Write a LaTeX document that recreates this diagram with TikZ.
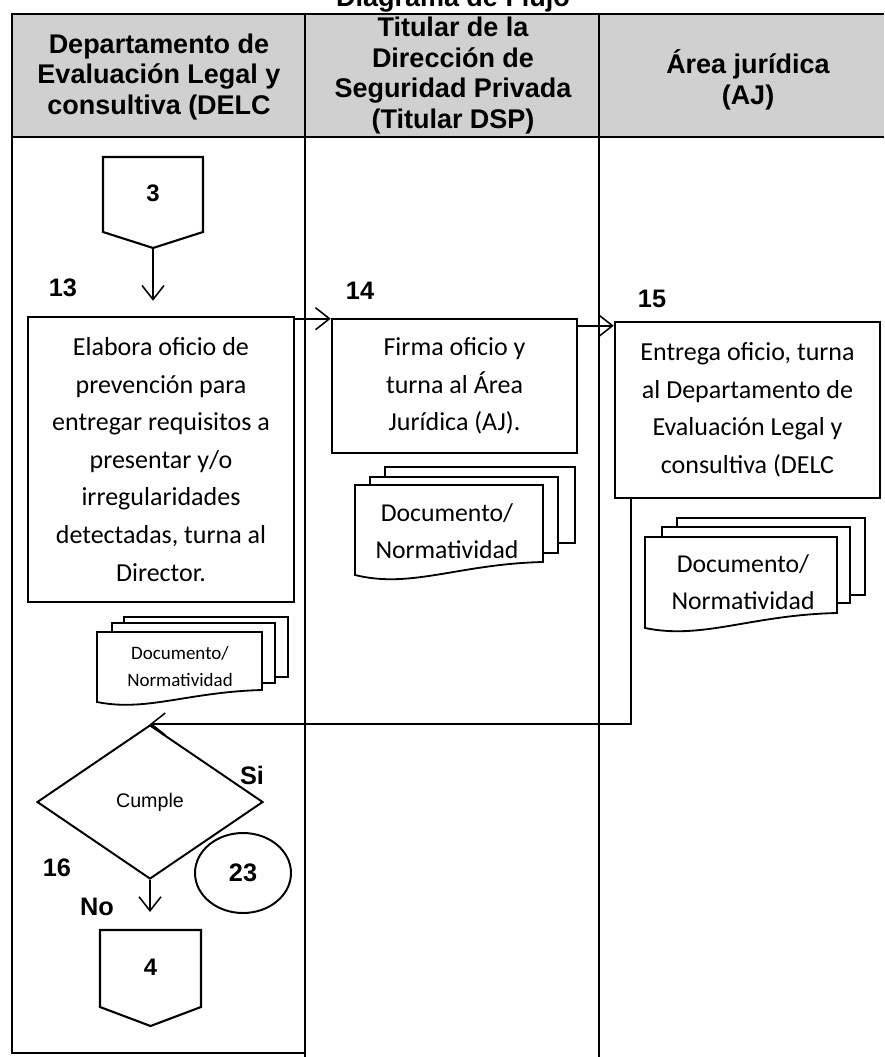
\documentclass[tikz,border=0pt]{standalone}
\usepackage{fontspec}
\setmainfont{Carlito}
\newfontfamily\arialfont{Liberation Sans}
\usepackage{tikz}
\usetikzlibrary{arrows.meta,shapes.geometric}

\definecolor{headgray}{RGB}{208,208,208}

\tikzset{
	flow/.style={line width=1.1pt,-{Straight Barb[length=0.35cm,width=0.55cm]}},
	procbox/.style={draw,line width=1.8pt,align=center,inner sep=0pt,font=\fontsize{18.5}{26.7}\selectfont},
	headtext/.style={align=center,font=\arialfont\bfseries\fontsize{19.2}{21.8}\selectfont},
	steplabel/.style={font=\arialfont\bfseries\fontsize{18}{20}\selectfont},
	conntext/.style={font=\arialfont\bfseries\fontsize{17}{19}\selectfont},
	page/.style={draw,fill=white,line width=1.3pt},
	doctext/.style={align=center,font=\fontsize{18.3}{26.3}\selectfont},
}

\begin{document}
\begin{tikzpicture}
	\useasboundingbox (0,0) rectangle (22.1,-26.425);
	% tabla
	\fill[headgray] (0.3,-0.35) rectangle (22.1,-3.425);
	\draw[line width=1.3pt] (22.1,-0.35) -- (0.3,-0.35) -- (0.3,-26.325) -- (7.625,-26.325);
	\draw[line width=1.3pt] (0.3,-3.425) -- (22.1,-3.425);
	\draw[line width=1.1pt] (7.625,-0.35) -- (7.625,-26.425);
	\draw[line width=1.1pt] (14.97,-0.35) -- (14.97,-26.425);
	\draw (11.325,-0.175) node[headtext,anchor=base] (title) {Diagrama de Flujo};
	\draw (3.975,-1.925) node[headtext] (hd1) {Departamento de\\Evaluación Legal y\\consultiva (DELC};
	\draw (11.325,-1.89) node[headtext] (hd2) {Titular de la\\Dirección de\\Seguridad Privada\\(Titular DSP)};
	\draw (18.7,-2.0) node[headtext] (hd3) {Área jurídica\\(AJ)};
	% conector 3
	\draw[line width=1.5pt] (2.575,-3.925) -- (5.075,-3.925) -- (5.075,-5.8) -- (3.825,-6.2) -- (2.575,-5.8) -- cycle;
	\draw (3.825,-4.825) node[conntext] (c3) {3};
	\coordinate (c3tip) at (3.825,-6.2);
	% actividades
	\node[procbox,minimum width=6.65cm,minimum height=7.125cm] (b13) at (4.025,-11.4875) {Elabora oficio de\\prevención para\\entregar requisitos a\\presentar y/o\\irregularidades\\detectadas, turna al\\Director.};
	\node[procbox,minimum width=6.125cm,minimum height=3.35cm] (b14) at (11.3625,-9.65) {Firma oficio y\\turna al Área\\Jurídica (AJ).};
	\node[procbox,minimum width=6.625cm,minimum height=4.4cm] (b15) at (18.6875,-10.25) {Entrega oficio, turna\\al Departamento de\\Evaluación Legal y\\consultiva (DELC};
	\draw (1.575,-7.2) node[steplabel] (n13) {13};
	\draw (9.0,-7.275) node[steplabel] (n14) {14};
	\draw (16.3,-7.475) node[steplabel] (n15) {15};
	% documentos 13
	\draw[page] (3.1,-15.425) rectangle (7.2,-16.925);
	\draw[page] (2.8,-15.575) rectangle (6.875,-17.075);
	\draw[page] (2.425,-17.55) -- (2.425,-15.8) -- (6.55,-15.8) -- (6.55,-17.25) .. controls (4.694,-17.3) and (3.6625,-17.8) .. (2.425,-17.55) -- cycle;
	\draw (4.5,-16.6625) node[align=center,font=\fontsize{13.5}{19.2}\selectfont] (d13) {Documento/\\Normatividad};
	% documentos 14
	\draw[page] (9.625,-11.675) rectangle (14.375,-13.575);
	\draw[page] (9.25,-11.925) rectangle (13.95,-13.825);
	\draw[page] (8.875,-14.375) -- (8.875,-12.125) -- (13.575,-12.125) -- (13.575,-14.05) .. controls (11.46,-14.1) and (10.285,-14.725) .. (8.875,-14.375) -- cycle;
	\draw (11.175,-13.2875) node[doctext] (d14) {Documento/\\Normatividad};
	% documentos 15
	\draw[page] (16.925,-12.95) rectangle (21.625,-14.875);
	\draw[page] (16.55,-13.175) rectangle (21.25,-15.075);
	\draw[page] (16.125,-15.7) -- (16.125,-13.425) -- (20.925,-13.425) -- (20.925,-15.325) .. controls (18.765,-15.375) and (17.565,-16.0) .. (16.125,-15.7) -- cycle;
	\draw (18.575,-14.5625) node[doctext] (d15) {Documento/\\Normatividad};
	% decision
	\node[draw,diamond,line width=1.4pt,minimum width=5.65cm,minimum height=3.85cm,inner sep=0pt,font=\arialfont\fontsize{14}{16}\selectfont] (dec) at (3.75,-20.05) {Cumple};
	\node[draw,ellipse,line width=1.4pt,minimum width=2.4cm,minimum height=2cm,inner sep=0pt,steplabel] (c23) at (6.075,-21.825) {23};
	\draw (6.3,-19.375) node[steplabel] (si) {Si};
	\draw (1.425,-21.7) node[steplabel] (n16) {16};
	\draw (2.425,-22.675) node[steplabel] (no) {No};
	% conector 4
	\draw[line width=1.5pt] (2.5,-23.25) -- (5.025,-23.25) -- (5.025,-25.175) -- (3.7625,-25.65) -- (2.5,-25.175) -- cycle;
	\draw (3.7625,-24.175) node[conntext] (c4) {4};
	\coordinate (c4top) at (3.75,-23.25);
	% flujo
	\draw[flow,shorten >=0.375cm] (c3tip) -- (c3tip |- b13.north);
	\draw[flow] ([yshift=-0.075cm]b13.north east) -- ([yshift=-0.075cm]b13.north east -| b14.west);
	\draw[flow] ([yshift=-0.2cm]b14.north east) -- ([yshift=-0.2cm]b14.north east -| b15.west);
	\draw[flow] ([xshift=0.425cm]b15.south west) |- (dec.north);
	\draw[flow,shorten >=0.45cm] (dec.south) -- (dec.south |- c4top);
\end{tikzpicture}
\end{document}
